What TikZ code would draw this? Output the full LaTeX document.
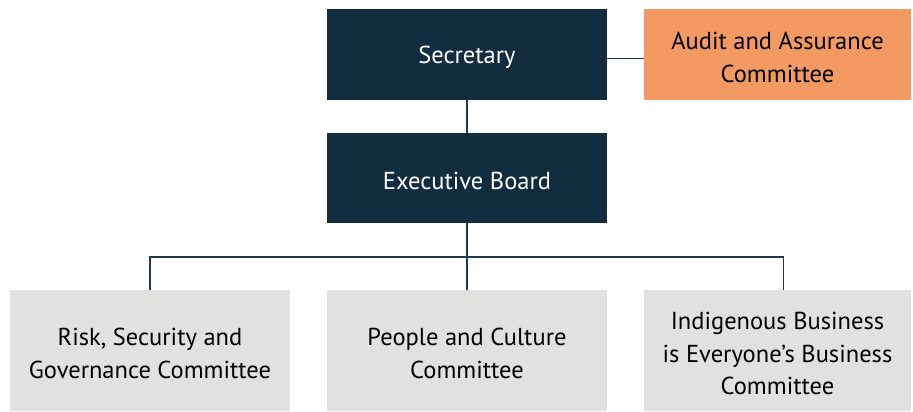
\documentclass[tikz,border=0pt]{standalone}
\usepackage{fontspec}
\setmainfont{PT Sans}
\definecolor{navy}{HTML}{132D40}
\definecolor{orangebox}{HTML}{F39A63}
\definecolor{greybox}{HTML}{E1E1E0}
\definecolor{linecol}{HTML}{1E3A4F}
\begin{document}
\begin{tikzpicture}[x=1pt,y=-1pt,
  box/.style={minimum width=280pt,minimum height=90pt,inner sep=0pt},
  txt/.style={inner sep=0pt,align=center,font=\fontsize{24.5}{32.5}\selectfont,yshift=-3pt},
  darkbox/.style={box,fill=navy},
  auditbox/.style={box,fill=orangebox,minimum width=267pt},
  lowbox/.style={box,fill=greybox,minimum height=121pt},
  link/.style={draw=linecol,line width=1.2pt}]
\useasboundingbox (0,0) rectangle (913,412);
\node[darkbox] (sec) at (467,54.5) {};
\node[txt,text=white] (sect) at (sec.center) {Secretary};
\node[auditbox] (aud) at (777.5,54.5) {};
\node[txt,text=black] (audt) at (aud.center) {Audit and Assurance\\Committee};
\node[darkbox] (exe) at (467,178) {};
\node[txt,text=white] (exet) at (exe.center) {Executive Board};
\node[lowbox] (risk) at (150,350.5) {};
\node[txt,text=black] (riskt) at (risk.center) {Risk, Security and\\Governance Committee};
\node[lowbox] (people) at (467,350.5) {};
\node[txt,text=black] (peoplet) at (people.center) {People and Culture\\Committee};
\node[lowbox,minimum width=267pt] (indig) at (777.5,350.5) {};
\node[txt,text=black] (indigt) at (indig.center) {Indigenous Business\\is Everyone’s Business\\Committee};
\coordinate (bus) at (467,257);
\draw[link] (sec.east |- 0,58.5) -- (aud.west |- 0,58.5);
\draw[link] (sec) -- (exe);
\draw[link] (exe.south) -- (bus);
\draw[link] (bus) -| (risk.north);
\draw[link] (bus) -- (people.north);
\draw[link] (bus) -| ([xshift=6pt]indig.north);
\end{tikzpicture}
\end{document}
